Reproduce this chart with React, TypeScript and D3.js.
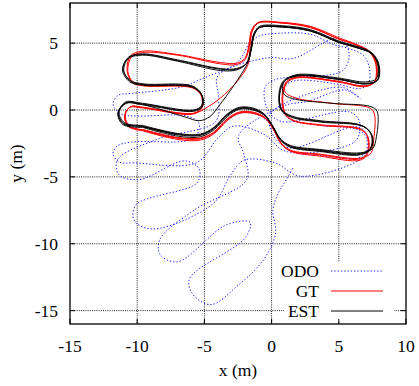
import React from 'react';
import * as d3 from 'd3';

const W = 419;
const H = 386;
const PLOT = { left: 70, right: 406, top: 3, bottom: 324 };
const X_DOMAIN: [number, number] = [-15, 10];
const Y_DOMAIN: [number, number] = [-16, 8];
const X_TICKS = [-15, -10, -5, 0, 5, 10];
const Y_TICKS = [-15, -10, -5, 0, 5];
const X_LABEL = 'x (m)';
const Y_LABEL = 'y (m)';
const LEGEND_NAMES = ['ODO', 'GT', 'EST'];

type P = [number, number];

// Ground truth laps (red)
const GT_LAP_A: P[] = [[-9.6,-1.5],[-7.0,-2.1],[-5.3,-2.15],[-4.3,-1.7],[-3.3,-0.7],[-2.4,-0.2],[-1.4,-0.2],[-0.5,-0.6],[0.1,-1.4],[0.7,-2.5],[1.4,-3.05],[3.6,-3.35],[6.6,-3.65],[7.1,-3.2],[7.15,-2.1],[6.7,-1.45],[3.6,-1.1],[1.6,-0.75],[1.0,-0.2],[0.85,1.2],[1.15,2.05],[1.9,2.4],[4.9,2.1],[7.0,1.75],[7.65,2.1],[7.75,3.4],[7.3,4.3],[6.2,4.9],[5.0,5.3],[2.9,6.15],[0.8,6.5],[-1.0,6.5],[-1.45,5.9],[-1.65,4.8],[-1.95,3.8],[-2.6,3.4],[-3.8,3.45],[-7.0,4.1],[-9.6,4.3],[-10.4,4.0],[-10.7,2.9],[-10.3,2.1],[-9.5,1.85],[-5.9,1.7],[-5.25,1.1],[-5.2,0.25],[-5.8,-0.25],[-9.6,0.2],[-10.5,0.25],[-10.9,-0.4],[-10.6,-1.2],[-9.6,-1.5]];
const GT_LAP_B: P[] = [[-9.6,-1.55],[-7.0,-2.2],[-5.3,-2.25],[-4.25,-1.75],[-3.25,-0.75],[-2.4,-0.25],[-1.4,-0.25],[-0.45,-0.65],[0.15,-1.45],[0.75,-2.55],[1.45,-3.1],[3.6,-3.45],[6.6,-3.75],[7.15,-3.25],[7.2,-2.1],[6.7,-1.5],[3.6,-1.15],[1.6,-0.8],[0.95,-0.25],[0.8,1.2],[1.1,2.1],[1.9,2.45],[4.9,2.15],[7.0,1.8],[7.7,2.15],[7.8,3.4],[7.35,4.35],[6.2,4.95],[5.0,5.4],[2.9,6.25],[0.8,6.55],[-1.0,6.55],[-1.5,5.95],[-1.7,4.8],[-2.0,3.85],[-2.6,3.5],[-3.8,3.55],[-7.0,4.15],[-9.6,4.4],[-10.5,4.05],[-10.75,2.9],[-10.35,2.05],[-9.5,1.8],[-5.9,1.65],[-5.2,1.05],[-5.15,0.2],[-5.8,-0.3],[-9.6,0.15],[-10.55,0.2],[-10.95,-0.45],[-10.65,-1.25],[-9.6,-1.55]];
const GT_LAP_C: P[] = [[-9.6,-1.45],[-7.0,-2.05],[-5.3,-2.1],[-4.3,-1.65],[-3.3,-0.65],[-2.4,-0.15],[-1.4,-0.15],[-0.5,-0.55],[0.1,-1.35],[0.7,-2.45],[1.4,-3.0],[3.6,-3.3],[6.6,-3.6],[7.4,-3.2],[7.6,-2.2],[7.65,-0.3],[7.3,0.15],[4.5,0.5],[1.8,0.9],[1.0,1.35],[1.1,2.1],[1.9,2.45],[4.9,2.15],[7.0,1.8],[7.7,2.15],[7.8,3.4],[7.35,4.3],[6.2,4.9],[5.0,5.3],[2.9,6.2],[0.8,6.5],[-1.0,6.5],[-1.45,5.9],[-1.6,4.8],[-1.75,3.4],[-2.6,2.1],[-3.8,0.9],[-4.8,0.2],[-5.8,-0.25],[-9.6,0.2],[-10.5,0.25],[-10.9,-0.4],[-10.6,-1.2],[-9.6,-1.5],[-7.0,-2.1],[-5.3,-2.15]];

// Estimated laps (black)
const EST_LAP_A: P[] = [[-9.6,-1.2],[-7.0,-1.8],[-5.3,-1.85],[-4.3,-1.35],[-3.3,-0.35],[-2.4,0.15],[-1.4,0.1],[-0.6,-0.3],[0.0,-1.1],[0.65,-2.2],[1.4,-2.7],[3.6,-3.0],[6.6,-3.25],[7.35,-2.85],[7.45,-1.9],[6.8,-1.2],[3.6,-0.85],[1.5,-0.5],[0.75,0.0],[0.6,1.2],[0.95,2.15],[1.9,2.55],[4.9,2.3],[7.0,1.95],[7.85,2.2],[7.95,3.3],[7.45,4.2],[6.2,4.7],[5.0,5.05],[2.9,5.9],[0.8,6.2],[-0.9,6.15],[-1.3,5.6],[-1.5,4.6],[-1.85,3.5],[-2.6,3.05],[-3.8,3.05],[-7.0,3.7],[-9.6,4.15],[-10.6,3.9],[-11.0,3.0],[-10.5,2.15],[-9.5,1.9],[-5.9,1.75],[-5.2,1.1],[-5.2,0.3],[-5.8,-0.05],[-9.6,0.45],[-10.8,0.55],[-11.4,-0.2],[-11.0,-1.0],[-9.6,-1.2]];
const EST_LAP_B: P[] = [[-9.6,-1.3],[-7.0,-1.95],[-5.3,-2.0],[-4.25,-1.45],[-3.25,-0.45],[-2.4,0.05],[-1.4,0.0],[-0.55,-0.4],[0.05,-1.2],[0.7,-2.3],[1.45,-2.8],[3.6,-3.1],[6.6,-3.35],[7.4,-2.9],[7.5,-1.95],[6.85,-1.25],[3.6,-0.9],[1.5,-0.55],[0.7,0.0],[0.55,1.25],[0.9,2.2],[1.9,2.6],[4.9,2.35],[7.0,2.0],[7.9,2.25],[8.0,3.35],[7.5,4.25],[6.2,4.75],[5.0,5.1],[2.9,5.95],[0.8,6.25],[-0.9,6.2],[-1.35,5.65],[-1.55,4.6],[-1.9,3.45],[-2.6,3.0],[-3.8,2.95],[-7.0,3.65],[-9.6,4.1],[-10.7,3.85],[-11.1,3.0],[-10.55,2.1],[-9.5,1.85],[-5.9,1.7],[-5.15,1.05],[-5.15,0.25],[-5.8,-0.1],[-9.6,0.4],[-10.9,0.5],[-11.45,-0.25],[-11.05,-1.1],[-9.6,-1.3]];
const EST_LAP_C: P[] = [[-9.6,-1.15],[-7.0,-1.75],[-5.3,-1.8],[-4.3,-1.3],[-3.3,-0.3],[-2.4,0.2],[-1.4,0.15],[-0.6,-0.25],[0.0,-1.05],[0.65,-2.15],[1.4,-2.65],[3.6,-2.95],[6.6,-3.2],[7.5,-2.9],[7.8,-2.0],[7.85,-0.1],[7.4,0.25],[4.5,0.5],[1.8,0.8],[1.0,1.1],[0.8,1.6],[1.0,2.2],[1.9,2.65],[4.9,2.4],[7.0,2.1],[7.8,2.35],[7.9,3.4],[7.4,4.3],[6.2,4.8],[5.0,5.15],[2.9,6.0],[0.8,6.3],[-0.9,6.25],[-1.3,5.7],[-1.5,4.7],[-1.8,3.55],[-2.6,3.1],[-3.8,3.1],[-7.0,3.75],[-9.6,4.2],[-10.65,3.95],[-11.05,3.05],[-10.5,2.2],[-9.5,1.95],[-5.9,1.8],[-5.2,1.15],[-5.2,0.35],[-5.8,0.0],[-9.6,0.5],[-10.85,0.6],[-11.35,-0.15],[-10.95,-0.95],[-9.6,-1.15]];
const EST_LAP_D: P[] = [[-9.6,-1.25],[-7.0,-1.85],[-5.3,-1.9],[-4.3,-1.4],[-3.3,-0.4],[-2.4,0.1],[-1.4,0.05],[-0.55,-0.35],[0.05,-1.15],[0.7,-2.25],[1.4,-2.75],[3.6,-3.05],[6.6,-3.3],[7.35,-2.9],[7.45,-1.95],[6.8,-1.2],[3.6,-0.8],[1.5,-0.45],[0.75,0.05],[0.6,1.2],[0.95,2.15],[1.9,2.55],[4.9,2.3],[7.0,1.95],[7.85,2.2],[7.95,3.3],[7.45,4.2],[6.2,4.7],[5.0,5.05],[2.9,5.9],[0.8,6.2],[-0.9,6.15],[-1.3,5.6],[-1.5,4.6],[-1.75,3.6],[-2.5,2.3],[-3.7,0.6],[-4.6,-0.5],[-5.4,-0.8],[-6.5,-0.5],[-9.6,0.4],[-10.8,0.5],[-11.4,-0.25],[-11.0,-1.05],[-9.6,-1.25],[-7.0,-1.85]];

// Odometry (blue dotted), one continuous drifting run
const ODO_RUN: P[] = [
  [-5.3,-2.15],[-4.3,-1.7],[-3.3,-0.75],[-2.4,-0.25],[-1.4,-0.25],[-0.5,-0.65],[0.1,-1.4],[0.7,-2.5],[1.4,-3.05],[3.6,-3.4],[6.4,-3.6],[7.0,-3.15],[7.05,-2.1],[6.5,-1.5],[3.6,-1.15],[1.6,-0.8],[0.95,-0.3],[0.8,1.0],[1.0,1.8],[1.8,2.2],[4.8,1.95],[6.6,1.6],[7.2,2.0],[7.3,3.0],[6.9,4.0],[5.9,4.55],[4.6,4.9],[2.9,5.65],[0.8,5.75],[-1.0,5.5],[-1.7,4.9],[-2.2,4.0],[-2.9,3.3],[-4.8,2.5],[-6.8,1.7],[-10.3,1.25],[-11.4,1.1],[-11.8,0.45],[-11.2,-0.3],[-10.0,-0.45],[-6.3,-0.45],[-5.4,-1.0],[-5.6,-1.9],[-6.3,-2.3],[-10.4,-2.4],[-11.5,-2.7],[-11.8,-3.3],[-11.3,-3.9],[-10.2,-3.95],[-5.6,-3.95],
  [-4.0,-2.1],[-2.8,-1.2],[-0.6,-1.8],[1.1,-3.1],[6.2,-2.35],[6.55,-0.9],[5.8,-0.15],[0.7,-0.85],[-0.3,0.05],[-0.5,1.65],[0.2,2.25],[5.3,2.95],[5.75,4.35],[4.9,5.35],
  [1.6,3.85],[-0.3,3.9],[-4.0,2.55],[-3.95,1.0],[-4.15,-0.85],[-8.4,-2.15],[-11.45,-3.7],[-11.35,-4.85],[-9.85,-5.2],[-6.45,-3.8],[-5.4,-4.4],[-5.55,-5.45],[-10.1,-7.1],[-10.2,-8.3],[-8.8,-8.9],[-4.3,-6.95],[-3.05,-4.85],[-2.05,-3.75],[0.25,-3.95],[2.15,-4.95],[7.0,-3.35],[7.1,-1.85],[6.3,-1.25],[1.4,-2.85],[0.25,-2.1],[-0.2,-0.55],[0.35,0.15],[5.2,1.7],
  [6.6,0.85],[5.45,1.5],[2.7,0.65],[0.85,0.3],[-2.45,-1.9],[-2.05,-3.35],[-1.85,-5.2],[-5.7,-7.45],[-8.3,-9.65],[-8.3,-10.8],[-7.0,-11.35],[-3.4,-8.6],[-1.6,-8.4],[-2.0,-9.6],[-6.1,-12.6],[-5.85,-13.8],[-4.5,-14.55],[-2.6,-13.2],[-0.6,-11.2],[0.3,-9.2],[0.1,-7.5],[0.5,-6.2],[1.1,-5.2],[1.6,-4.3]
];

const FONT = "'Liberation Serif', 'Times New Roman', Times, serif";

export default function App() {
  const x = d3.scaleLinear().domain(X_DOMAIN).range([PLOT.left, PLOT.right]);
  const y = d3.scaleLinear().domain(Y_DOMAIN).range([PLOT.bottom, PLOT.top]);
  const line = d3
    .line<P>()
    .x((d) => x(d[0]))
    .y((d) => y(d[1]))
    .curve(d3.curveCatmullRom.alpha(0.5));

  const gtLaps = [GT_LAP_A, GT_LAP_B, GT_LAP_C];
  const estLaps = [EST_LAP_A, EST_LAP_B, EST_LAP_C, EST_LAP_D];

  const legendTextX = 319;
  const legendRows = [271, 291, 311];
  const legendStyles = [
    { stroke: '#1a1aff', dash: '1.3,2' },
    { stroke: '#ff0000', dash: undefined },
    { stroke: '#000000', dash: undefined },
  ];

  return (
    <div style={{ position: 'absolute', left: 0, top: 0 }}>
      <svg width={W} height={H} viewBox={`0 0 ${W} ${H}`} style={{ display: 'block', background: '#fff' }}>
        <defs>
          <clipPath id="plotclip">
            <rect x={PLOT.left} y={PLOT.top} width={PLOT.right - PLOT.left} height={PLOT.bottom - PLOT.top} />
          </clipPath>
        </defs>
        <rect x={0} y={0} width={W} height={H} fill="#fff" />
        {/* grid */}
        <g stroke="#000" strokeWidth={0.9} strokeDasharray="1,1.2">
          {X_TICKS.slice(1, -1).map((t) => (
            <line key={'gx' + t} x1={x(t)} x2={x(t)} y1={PLOT.top} y2={PLOT.bottom} />
          ))}
          {Y_TICKS.map((t) => (
            <line key={'gy' + t} x1={PLOT.left} x2={PLOT.right} y1={y(t)} y2={y(t)} />
          ))}
        </g>
        {/* data */}
        <g clipPath="url(#plotclip)" fill="none">
          <path d={line(ODO_RUN) || ''} stroke="#1a1aff" strokeWidth={1} strokeDasharray="1.3,2" />
          {gtLaps.map((lap, i) => (
            <path key={'gt' + i} d={line(lap) || ''} stroke="#ff0000" strokeWidth={1} />
          ))}
          {estLaps.map((lap, i) => (
            <path key={'est' + i} d={line(lap) || ''} stroke="#000" strokeWidth={0.95} />
          ))}
        </g>
        {/* legend */}
        <rect x={284} y={262} width={110} height={59} fill="#fff" />
        {LEGEND_NAMES.map((name, i) => (
          <g key={name}>
            <text x={legendTextX} y={legendRows[i]} dy="0.35em" textAnchor="end" fontFamily={FONT} fontSize={17.5} fill="#000">
              {name}
            </text>
            <line
              x1={331}
              x2={383}
              y1={legendRows[i]}
              y2={legendRows[i]}
              stroke={legendStyles[i].stroke}
              strokeWidth={1}
              strokeDasharray={legendStyles[i].dash}
            />
          </g>
        ))}
        {/* ticks */}
        <g stroke="#000" strokeWidth={1}>
          {X_TICKS.map((t) => (
            <g key={'tx' + t}>
              <line x1={x(t)} x2={x(t)} y1={PLOT.bottom} y2={PLOT.bottom - 5} />
              <line x1={x(t)} x2={x(t)} y1={PLOT.top} y2={PLOT.top + 5} />
            </g>
          ))}
          {Y_TICKS.map((t) => (
            <g key={'ty' + t}>
              <line x1={PLOT.left} x2={PLOT.left + 5} y1={y(t)} y2={y(t)} />
              <line x1={PLOT.right} x2={PLOT.right - 5} y1={y(t)} y2={y(t)} />
            </g>
          ))}
        </g>
        {/* frame */}
        <rect x={PLOT.left} y={PLOT.top} width={PLOT.right - PLOT.left} height={PLOT.bottom - PLOT.top} fill="none" stroke="#000" strokeWidth={1.3} />
        {/* tick labels */}
        {X_TICKS.map((t) => (
          <text key={'lx' + t} x={x(t)} y={352} textAnchor="middle" fontFamily={FONT} fontSize={17.5} fill="#000">
            {String(t)}
          </text>
        ))}
        {Y_TICKS.map((t) => (
          <text key={'ly' + t} x={58} y={y(t)} dy="0.35em" textAnchor="end" fontFamily={FONT} fontSize={17.5} fill="#000">
            {String(t)}
          </text>
        ))}
        <text x={238} y={376} textAnchor="middle" fontFamily={FONT} fontSize={17.5} fill="#000">
          {X_LABEL}
        </text>
        <text transform={`translate(22,${(PLOT.top + PLOT.bottom) / 2}) rotate(-90)`} textAnchor="middle" fontFamily={FONT} fontSize={17.5} fill="#000">
          {Y_LABEL}
        </text>
      </svg>
    </div>
  );
}
